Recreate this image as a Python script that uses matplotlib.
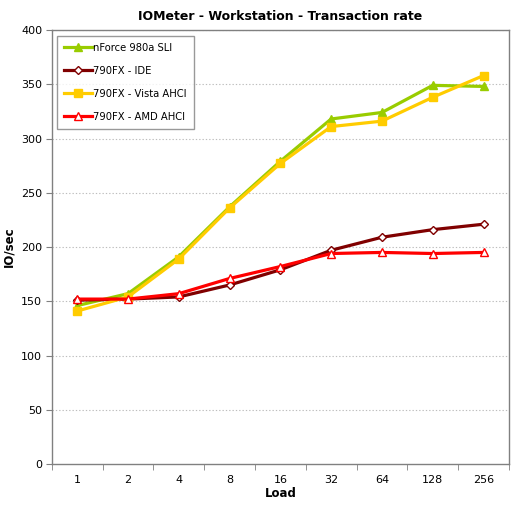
import matplotlib
matplotlib.use("Agg")
import matplotlib.pyplot as plt
import numpy as np

# ----------------------------
# Data
# ----------------------------
loads = ["1", "2", "4", "8", "16", "32", "64", "128", "256"]

nforce_sli = [146, 157, 191, 237, 279, 318, 324, 349, 348]
fx_ide = [151, 152, 154, 165, 179, 197, 209, 216, 221]
fx_vista = [141, 154, 189, 236, 277, 311, 316, 338, 358]
fx_amd = [152, 152, 157, 171, 182, 194, 195, 194, 195]

series = [
    ("nForce 980a SLI", nforce_sli, "#99CC00", "^", "#99CC00", 5.5),
    ("790FX - IDE", fx_ide, "#800000", "D", "white", 4.5),
    ("790FX - Vista AHCI", fx_vista, "#FFCC00", "s", "#FFCC00", 5.5),
    ("790FX - AMD AHCI", fx_amd, "#FF0000", "^", "white", 6),
]

# ----------------------------
# Plot
# ----------------------------
fig = plt.figure(figsize=(5.13, 5.13), dpi=100)
ax = fig.add_axes([0.101, 0.0955, 0.891, 0.846])

x = np.arange(len(loads))
for i, (label, vals, color, marker, face, ms) in enumerate(series):
    ax.plot(x, vals, color=color, lw=2.3, marker=marker, markersize=ms,
            markerfacecolor=face, markeredgecolor=color, markeredgewidth=1.0,
            label=label, zorder=3 + i, clip_on=False)

ax.set_xlim(-0.5, len(loads) - 0.5)
ax.set_ylim(0, 400)
ax.set_yticks(range(0, 401, 50))
ax.set_xticks(x)
ax.set_xticklabels(loads)
ax.set_xticks(np.arange(-0.5, len(loads), 1), minor=True)

ax.tick_params(axis="x", which="major", length=0, pad=8, labelsize=8)
ax.tick_params(axis="x", which="minor", length=4, color="#808080", direction="out")
ax.tick_params(axis="y", length=4, color="#808080", labelsize=8, pad=3)

for y in range(50, 401, 50):
    ax.axhline(y, color="#BDBDBD", lw=0.8, ls=(0, (1.2, 1.8)), zorder=1)

for s in ax.spines.values():
    s.set_color("#808080")
    s.set_linewidth(1.0)

ax.set_xlabel("Load", fontsize=8.5, fontweight="bold", labelpad=1)
ax.set_ylabel("IO/sec", fontsize=8.5, fontweight="bold", labelpad=4)
ax.set_title("IOMeter - Workstation - Transaction rate", fontsize=9,
             fontweight="bold", pad=7)

leg = ax.legend(loc="upper left", bbox_to_anchor=(0.012, 0.987), fontsize=7.2,
                frameon=True, fancybox=False, handlelength=2.8,
                handletextpad=0.1, labelspacing=1.3, borderpad=0.7,
                borderaxespad=0)
leg.get_frame().set_edgecolor("#808080")
leg.get_frame().set_linewidth(1.0)
leg.set_zorder(10)

fig.savefig("out.png", dpi=100)
